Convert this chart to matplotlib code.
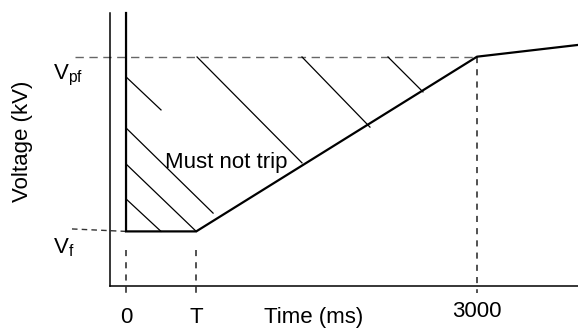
import matplotlib
matplotlib.use("Agg")
import matplotlib.pyplot as plt

plt.rcParams["font.family"] = ["Liberation Sans", "DejaVu Sans"]
plt.rcParams["mathtext.fontset"] = "custom"
plt.rcParams["mathtext.rm"] = "Liberation Sans"

# schematic fault ride-through curve (time in ms, voltage in per-unit of axis)
T_MS = 600
V_F = 0.2
V_PF = 0.84
curve_t = [0, 0, T_MS, 3000, 3863]
curve_v = [1.0, V_F, V_F, V_PF, 0.883]

# hatching of the "must not trip" region
hatch_t0 = [0, 0, 0, 0, 607, 1504, 2239]
hatch_v0 = [0.766, 0.579, 0.447, 0.319, 0.839, 0.839, 0.839]
hatch_t1 = [299, 744, T_MS, 299, 1504, 2085, 2538]
hatch_v1 = [0.645, 0.267, V_F, V_F, 0.451, 0.582, 0.711]

x_labels = ["0", "T", "3000"]
x_label_pos = [0, T_MS, 3000]
x_label_y = [-0.117, -0.117, -0.092]

fig = plt.figure(figsize=(5.78, 3.29), dpi=100)
ax = fig.add_axes([110 / 578, 43 / 329, 468 / 578, 273 / 329])
ax.set_xlim(-137, 3863)
ax.set_ylim(0, 1)
for side in ["top", "right"]:
    ax.spines[side].set_visible(False)
for side in ["left", "bottom"]:
    ax.spines[side].set_linewidth(1.1)
ax.set_xticks([])
ax.set_yticks([])

# reference levels
ax.plot([-436, 3000], [V_PF, V_PF], color="#666666", lw=1.0,
        dashes=(6, 4), clip_on=False)
ax.plot([-462, 0], [0.209, V_F], color="#333333", lw=1.0,
        dashes=(4, 3), clip_on=False)
for t, top in [(0, 0.132), (T_MS, 0.132), (3000, V_PF)]:
    ax.plot([t, t], [top, -0.026], color="#222222", lw=1.1,
            dashes=(4, 4), clip_on=False)

for t0, v0, t1, v1 in zip(hatch_t0, hatch_v0, hatch_t1, hatch_v1):
    ax.plot([t0, t1], [v0, v1], color="black", lw=0.9)

ax.plot(curve_t, curve_v, color="black", lw=1.6, solid_joinstyle="miter",
        clip_on=False)

ax.text(333, 0.432, "Must not trip", fontsize=16, ha="left", va="baseline")
ax.text(-624, 0.755, r"$\mathregular{V_{pf}}$", fontsize=16, ha="left",
        va="baseline")
ax.text(-624, 0.121, r"$\mathregular{V_{f}}$", fontsize=16, ha="left",
        va="baseline")
ax.text(-889, 0.531, "Voltage (kV)", fontsize=16, rotation=90,
        ha="center", va="center")
for lbl, t, y in zip(x_labels, x_label_pos, x_label_y):
    ax.text(t, y, lbl, fontsize=16, ha="center", va="center")
ax.text(1607, -0.117, "Time (ms)", fontsize=16, ha="center", va="center")

fig.savefig("out.png", dpi=100)
